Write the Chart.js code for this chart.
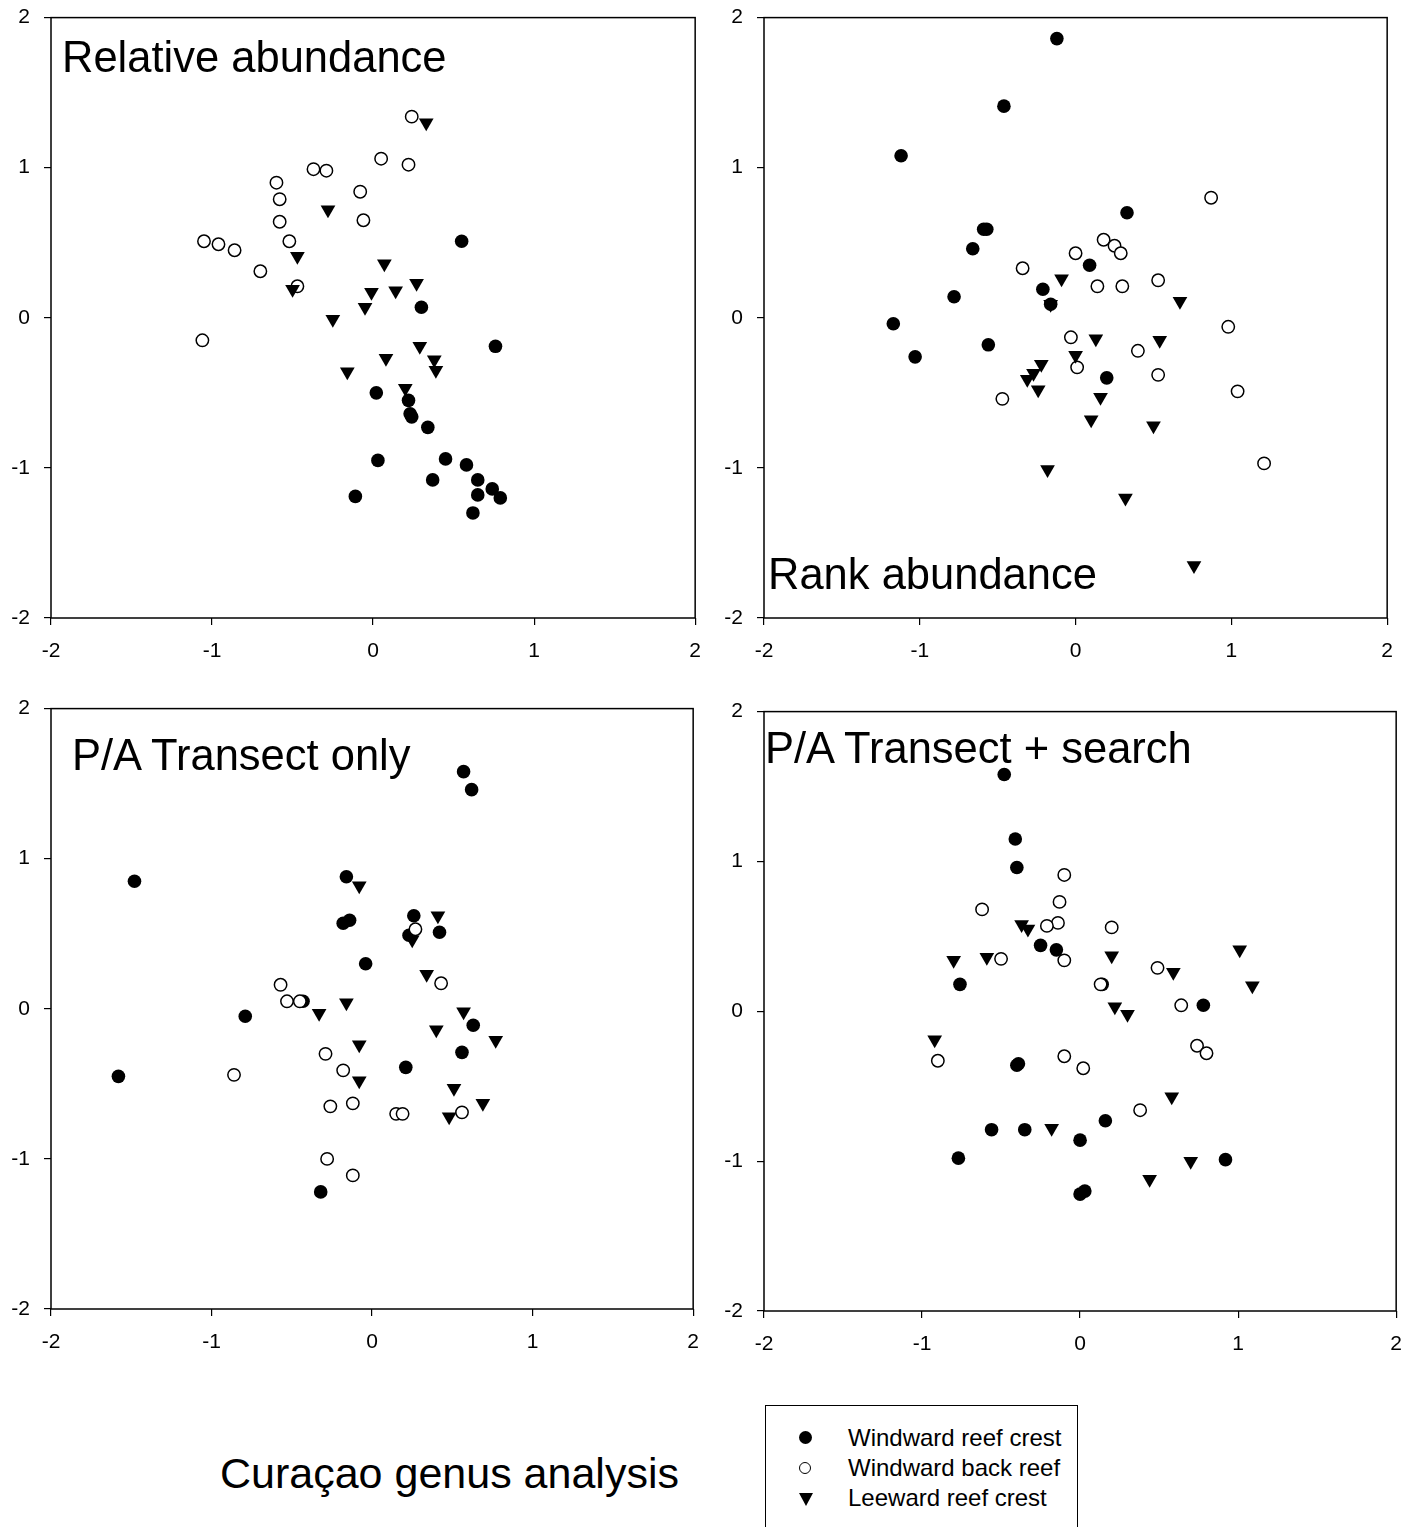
<!DOCTYPE html>
<html>
<head>
<meta charset="utf-8">
<script src="https://cdn.jsdelivr.net/npm/chart.js@4.4.1/dist/chart.umd.min.js"></script>
<style>
  body {
    margin: 0;
    width: 1415px;
    height: 1527px;
    position: relative;
    overflow: hidden;
    background: #fff;
    font-family: "Liberation Sans", Arial, sans-serif;
    color: #000;
  }
  canvas { position: absolute; }
  .label {
    position: absolute;
    font-size: 43.5px;
    line-height: 1;
    white-space: nowrap;
  }
  #legend {
    position: absolute;
    left: 765px;
    top: 1405px;
    width: 311px;
    height: 150px;
    border: 1.5px solid #000;
  }
  .item {
    position: absolute;
    left: 82px;
    font-size: 24px;
    line-height: 1;
    white-space: nowrap;
  }
  .sym { position: absolute; left: 33px; }
  .dot { width: 13px; height: 13px; border-radius: 50%; background: #000; }
  .ring { width: 10px; height: 10px; border-radius: 50%; border: 1.5px solid #000; }
  .tri { width: 0; height: 0; border-left: 7px solid transparent; border-right: 7px solid transparent; border-top: 13px solid #000; }
</style>
</head>
<body>

<canvas id="relChart" width="715" height="687" style="left:0px;top:-9px;"></canvas>
<canvas id="rankChart" width="694" height="687" style="left:713px;top:-9px;"></canvas>
<canvas id="paChart" width="713" height="687" style="left:0px;top:682px;"></canvas>
<canvas id="searchChart" width="703" height="686" style="left:713px;top:685px;"></canvas>

<div class="label" style="left:62px;top:36px;">Relative abundance</div>
<div class="label" style="left:768px;top:553px;">Rank abundance</div>
<div class="label" style="left:72px;top:734px;">P/A Transect only</div>
<div class="label" style="left:765px;top:727px;">P/A Transect + search</div>
<div class="label" style="left:220px;top:1452px;font-size:43px;">Curaçao genus analysis</div>

<div id="legend">
  <div class="sym dot" style="top:25px;"></div>
  <div class="item" style="top:20px;">Windward reef crest</div>
  <div class="sym ring" style="top:56px;"></div>
  <div class="item" style="top:50px;">Windward back reef</div>
  <div class="sym tri" style="top:87px;"></div>
  <div class="item" style="top:80px;">Leeward reef crest</div>
</div>

<script>
const groups = ["Windward reef crest", "Windward back reef", "Leeward reef crest"];
const tickValues = [-2, -1, 0, 1, 2];

// Relative abundance
const relCrest = [[0.55,0.51],[0.30,0.07],[0.76,-0.19],[0.02,-0.50],[0.22,-0.55],[0.24,-0.66],[0.23,-0.64],[0.34,-0.73],[0.03,-0.95],[0.45,-0.94],[0.58,-0.98],[0.37,-1.08],[0.65,-1.08],[0.74,-1.14],[0.65,-1.18],[0.79,-1.20],[-0.11,-1.19],[0.62,-1.30]];
const relBack = [[0.24,1.34],[0.05,1.06],[0.22,1.02],[-0.37,0.99],[-0.29,0.98],[-0.60,0.90],[-0.58,0.79],[-0.08,0.84],[-0.06,0.65],[-0.58,0.64],[-1.05,0.51],[-0.96,0.49],[-0.86,0.45],[-0.52,0.51],[-0.70,0.31],[-0.47,0.21],[-1.06,-0.15]];
const relLee = [[0.33,1.30],[-0.28,0.72],[-0.47,0.41],[-0.50,0.19],[0.07,0.36],[0.27,0.23],[-0.01,0.17],[0.14,0.18],[-0.05,0.07],[-0.25,-0.01],[0.29,-0.19],[0.08,-0.27],[0.38,-0.28],[0.39,-0.35],[-0.16,-0.36],[0.20,-0.47]];

// Rank abundance
const rankCrest = [[-0.12,1.86],[-0.46,1.41],[-1.12,1.08],[0.33,0.70],[-0.57,0.59],[-0.59,0.59],[-0.66,0.46],[0.09,0.35],[-0.21,0.19],[-0.78,0.14],[-0.16,0.09],[-1.17,-0.04],[-0.56,-0.18],[-1.03,-0.26],[0.20,-0.40]];
const rankBack = [[0.87,0.80],[0.18,0.52],[0.25,0.48],[0.29,0.43],[0.00,0.43],[-0.34,0.33],[0.14,0.21],[0.30,0.21],[0.53,0.25],[0.98,-0.06],[-0.03,-0.13],[0.40,-0.22],[0.01,-0.33],[0.53,-0.38],[1.04,-0.49],[-0.47,-0.54],[1.21,-0.97]];
const rankLee = [[-0.09,0.26],[0.67,0.11],[-0.16,0.09],[0.13,-0.14],[0.54,-0.15],[0.00,-0.25],[-0.22,-0.31],[-0.27,-0.37],[-0.31,-0.41],[-0.24,-0.48],[0.16,-0.53],[0.10,-0.68],[0.50,-0.72],[-0.18,-1.01],[0.32,-1.20],[0.76,-1.65]];

// P/A transect only
const paCrest = [[0.57,1.58],[0.62,1.46],[-1.48,0.85],[-0.16,0.88],[-0.18,0.57],[-0.14,0.59],[0.26,0.62],[0.23,0.49],[0.42,0.51],[-0.04,0.30],[-0.79,-0.05],[-1.58,-0.45],[0.63,-0.11],[0.56,-0.29],[0.21,-0.39],[-0.32,-1.22],[-0.43,0.05]];
const paBack = [[0.43,0.17],[0.27,0.53],[-0.57,0.16],[-0.53,0.05],[-0.45,0.05],[-0.86,-0.44],[-0.29,-0.30],[-0.18,-0.41],[-0.26,-0.65],[-0.12,-0.63],[0.15,-0.70],[0.19,-0.70],[0.56,-0.69],[-0.28,-1.00],[-0.12,-1.11]];
const paLee = [[-0.08,0.82],[0.41,0.62],[0.25,0.46],[0.34,0.23],[-0.16,0.04],[-0.33,-0.03],[0.57,-0.02],[0.40,-0.14],[0.77,-0.21],[-0.08,-0.24],[-0.08,-0.48],[0.51,-0.53],[0.69,-0.63],[0.48,-0.72]];

// P/A transect + search
const searchCrest = [[-0.48,1.58],[-0.41,1.15],[-0.40,0.96],[-0.25,0.44],[-0.15,0.41],[-0.76,0.18],[0.78,0.04],[0.14,0.18],[-0.40,-0.36],[-0.39,-0.35],[-0.56,-0.79],[-0.35,-0.79],[0.16,-0.73],[0.00,-0.86],[-0.77,-0.98],[0.92,-0.99],[0.03,-1.20],[0.00,-1.22]];
const searchBack = [[-0.10,0.91],[-0.13,0.73],[-0.62,0.68],[-0.14,0.59],[-0.21,0.57],[0.20,0.56],[-0.50,0.35],[-0.10,0.34],[0.49,0.29],[0.13,0.18],[0.64,0.04],[-0.90,-0.33],[-0.10,-0.30],[0.02,-0.38],[0.74,-0.23],[0.80,-0.28],[0.38,-0.66]];
const searchLee = [[-0.37,0.58],[-0.33,0.55],[-0.80,0.34],[-0.59,0.36],[0.20,0.37],[1.01,0.41],[0.59,0.26],[1.09,0.17],[0.22,0.03],[0.30,-0.02],[-0.92,-0.19],[0.58,-0.57],[-0.18,-0.78],[0.70,-1.00],[0.44,-1.12]];

const toPoints = arr => arr.map(p => ({ x: p[0], y: p[1] }));

// box round the plot area
const frame = {
    id: "frame",
    beforeDatasetsDraw(chart) {
        const { ctx, chartArea: a } = chart;
        ctx.save();
        ctx.strokeStyle = "#000";
        ctx.lineWidth = 1.5;
        ctx.strokeRect(a.left, a.top, a.right - a.left, a.bottom - a.top);
        ctx.restore();
    }
};

const axisOptions = (isX) => ({
    type: "linear",
    min: -2,
    max: 2,
    afterBuildTicks: scale => { scale.ticks = tickValues.map(v => ({ value: v })); },
    afterFit: scale => {
        if (isX) scale.height = 60;
        else scale.width = 51;
    },
    grid: {
        drawOnChartArea: false,
        drawTicks: true,
        tickLength: 7,
        color: "#000",
        lineWidth: 1.2
    },
    border: { display: false },
    ticks: {
        color: "#000",
        padding: 14,
        font: { family: "'Liberation Sans', Arial, sans-serif", size: 21 },
        callback: v => String(v)
    }
});

const makePanel = (id, crest, back, lee) => {
    new Chart(document.getElementById(id), {
        type: "scatter",
        data: {
            datasets: [
                {
                    label: groups[0],
                    data: toPoints(crest),
                    pointStyle: "circle",
                    pointRadius: 6.8,
                    backgroundColor: "#000",
                    borderColor: "#000",
                    borderWidth: 0,
                    order: 3
                },
                {
                    label: groups[1],
                    data: toPoints(back),
                    pointStyle: "circle",
                    pointRadius: 6.2,
                    backgroundColor: "#fff",
                    borderColor: "#000",
                    borderWidth: 1.5,
                    order: 2
                },
                {
                    label: groups[2],
                    data: toPoints(lee),
                    pointStyle: "triangle",
                    rotation: 180,
                    pointRadius: 8.5,
                    backgroundColor: "#000",
                    borderColor: "#000",
                    borderWidth: 0,
                    order: 1
                }
            ]
        },
        options: {
            responsive: false,
            animation: false,
            events: [],
            layout: { padding: 0 },
            plugins: {
                legend: { display: false },
                tooltip: { enabled: false }
            },
            scales: {
                x: axisOptions(true),
                y: axisOptions(false)
            }
        },
        plugins: [frame]
    });
};

makePanel("relChart", relCrest, relBack, relLee);
makePanel("rankChart", rankCrest, rankBack, rankLee);
makePanel("paChart", paCrest, paBack, paLee);
makePanel("searchChart", searchCrest, searchBack, searchLee);
</script>
</body>
</html>
